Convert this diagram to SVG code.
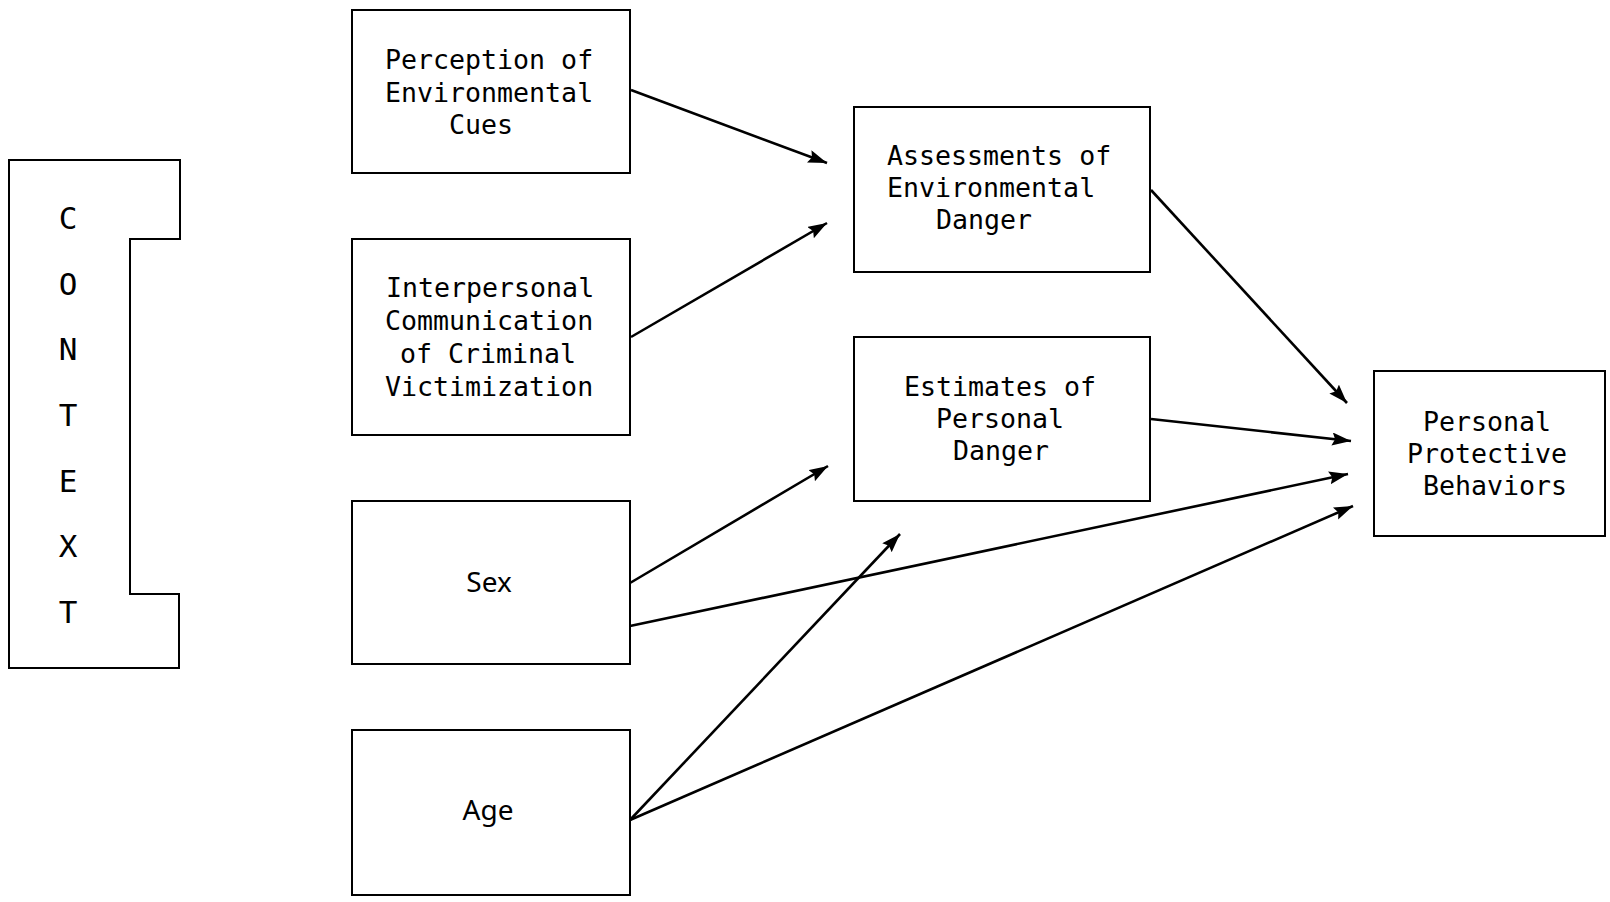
<svg xmlns="http://www.w3.org/2000/svg" width="1610" height="902" viewBox="0 0 1610 902">
<style>
.box{fill:none;stroke:#000;stroke-width:2}
.t{font-family:"DejaVu Sans Mono","Liberation Mono",monospace;font-size:26.6px;fill:#000}
.s{font-family:"Noto Sans","Open Sans",sans-serif;font-size:28px;fill:#000;text-anchor:middle}
.c{font-family:"DejaVu Sans Mono","Liberation Mono",monospace;font-size:31px;fill:#000;text-anchor:middle}
.e{fill:none;stroke:#000;stroke-width:2.6;marker-end:url(#ah)}
</style>
<defs>
<marker id="ah" markerUnits="userSpaceOnUse" markerWidth="21" markerHeight="14" refX="19" refY="6.5" orient="auto">
<path d="M0,0 L19,6.5 L0,13 L3,6.5 Z" fill="#000"/>
</marker>
</defs>
<rect width="1610" height="902" fill="#fff"/>
<g id="context">
<path class="box" d="M9,160 L180,160 L180,239 L130,239 L130,594 L179,594 L179,668 L9,668 Z"/>
<text class="c" x="68" y="229">C</text>
<text class="c" x="68" y="295">O</text>
<text class="c" x="68" y="360">N</text>
<text class="c" x="68" y="426">T</text>
<text class="c" x="68" y="492">E</text>
<text class="c" x="68" y="557">X</text>
<text class="c" x="68" y="623">T</text>
</g>
<g id="perception">
<rect class="box" x="352" y="10" width="278" height="163"/>
<text class="t" x="385" y="69">Perception of</text>
<text class="t" x="385" y="102">Environmental</text>
<text class="t" x="449" y="134">Cues</text>
</g>
<g id="interpersonal">
<rect class="box" x="352" y="239" width="278" height="196"/>
<text class="t" x="386" y="297">Interpersonal</text>
<text class="t" x="385" y="330">Communication</text>
<text class="t" x="400" y="363">of Criminal</text>
<text class="t" x="385" y="396">Victimization</text>
</g>
<g id="sex">
<rect class="box" x="352" y="501" width="278" height="163"/>
<text class="s" x="489" y="592">Sex</text>
</g>
<g id="age">
<rect class="box" x="352" y="730" width="278" height="165"/>
<text class="s" x="488" y="820">Age</text>
</g>
<g id="assessments">
<rect class="box" x="854" y="107" width="296" height="165"/>
<text class="t" x="887" y="165">Assessments of</text>
<text class="t" x="887" y="197">Environmental</text>
<text class="t" x="936" y="229">Danger</text>
</g>
<g id="estimates">
<rect class="box" x="854" y="337" width="296" height="164"/>
<text class="t" x="904" y="396">Estimates of</text>
<text class="t" x="936" y="428">Personal</text>
<text class="t" x="953" y="460">Danger</text>
</g>
<g id="protective">
<rect class="box" x="1374" y="371" width="231" height="165"/>
<text class="t" x="1423" y="431">Personal</text>
<text class="t" x="1407" y="463">Protective</text>
<text class="t" x="1423" y="495">Behaviors</text>
</g>
<g id="connectors">
<line class="e" x1="631" y1="90" x2="827" y2="163"/>
<line class="e" x1="631" y1="337" x2="827" y2="223"/>
<line class="e" x1="1151" y1="190" x2="1347" y2="403"/>
<line class="e" x1="1151" y1="419" x2="1351" y2="441"/>
<line class="e" x1="630" y1="583" x2="828" y2="466"/>
<line class="e" x1="630" y1="626" x2="1348" y2="474"/>
<line class="e" x1="630" y1="820" x2="900" y2="534"/>
<line class="e" x1="630" y1="820" x2="1353" y2="506"/>
</g>
</svg>
